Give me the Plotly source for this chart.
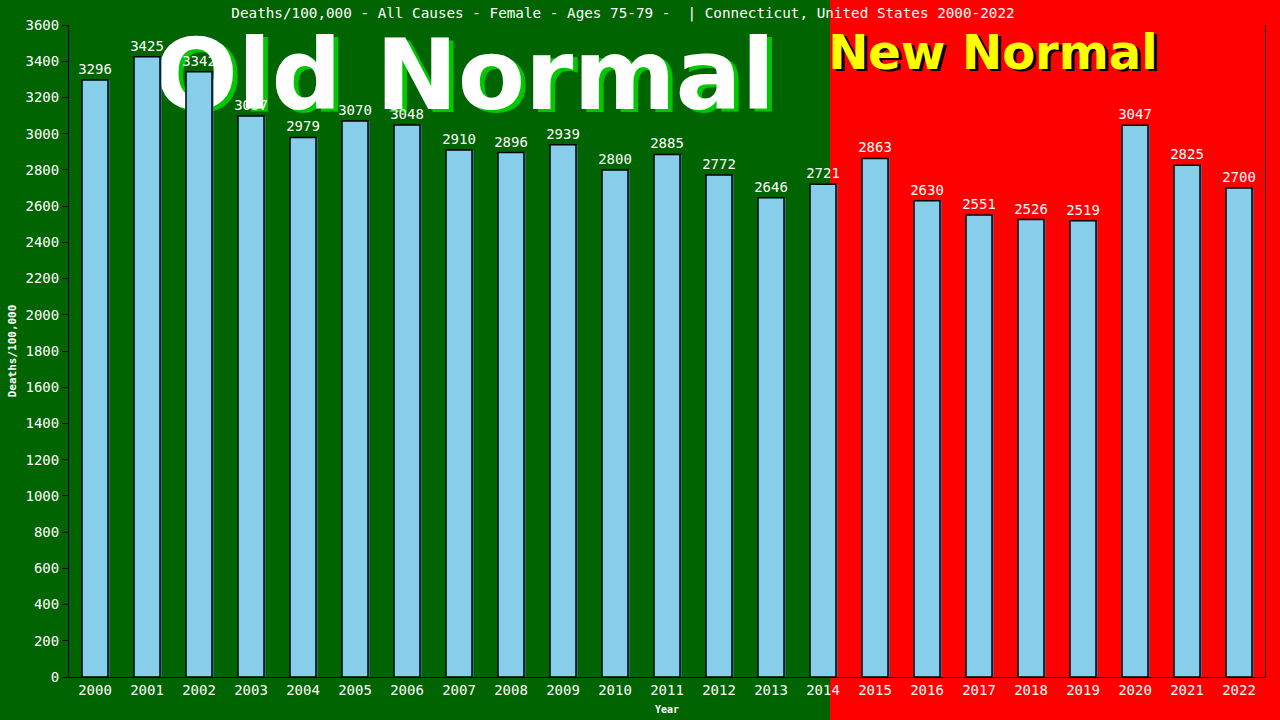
import plotly.graph_objects as go

years = list(range(2000, 2023))
deaths = [3296, 3425, 3342, 3097, 2979, 3070, 3048, 2910, 2896, 2939, 2800, 2885,
          2772, 2646, 2721, 2863, 2630, 2551, 2526, 2519, 3047, 2825, 2700]
title_text = 'Deaths/100,000 - All Causes - Female - Ages 75-79 -  | Connecticut, United States 2000-2022'

mono = 'DejaVu Sans Mono'
green_bg = '#006400'

fig = go.Figure()

# big background captions live on the base axes so the bars sit on top of them
fig.add_trace(go.Scatter(x=[0.335], y=[0.9034], mode='text', text=['<b>Old Normal</b>'],
                         textfont=dict(family='DejaVu Sans', size=98, color='#00c800'),
                         hoverinfo='skip', showlegend=False, cliponaxis=False))
fig.add_trace(go.Scatter(x=[0.331], y=[0.9084], mode='text', text=['<b>Old Normal</b>'],
                         textfont=dict(family='DejaVu Sans', size=98, color='white'),
                         hoverinfo='skip', showlegend=False, cliponaxis=False))
fig.add_trace(go.Scatter(x=[0.775], y=[0.9485], mode='text', text=['<b>New Normal</b>'],
                         textfont=dict(family='DejaVu Sans', size=48, color='black'),
                         hoverinfo='skip', showlegend=False, cliponaxis=False))
fig.add_trace(go.Scatter(x=[0.7725], y=[0.9515], mode='text', text=['<b>New Normal</b>'],
                         textfont=dict(family='DejaVu Sans', size=48, color='yellow'),
                         hoverinfo='skip', showlegend=False, cliponaxis=False))

# bar shadow, then the bars
fig.add_trace(go.Bar(x=years, y=deaths, width=0.5, offset=-0.22,
                     marker=dict(color='#4682b4', line=dict(width=0)),
                     xaxis='x2', yaxis='y2', hoverinfo='skip', showlegend=False))
fig.add_trace(go.Bar(x=years, y=deaths, width=0.5, offset=-0.25,
                     marker=dict(color='#87ceeb', line=dict(color='black', width=1.5)),
                     text=deaths, texttemplate='%{y}', textposition='outside',
                     constraintext='none', cliponaxis=False,
                     textfont=dict(family=mono, size=14, color='white'),
                     xaxis='x2', yaxis='y2', showlegend=False))

fig.update_layout(
    width=1280, height=720,
    paper_bgcolor=green_bg, plot_bgcolor='rgba(0,0,0,0)',
    margin=dict(l=69, r=15, t=25, b=43),
    barmode='overlay',
    title=dict(text=title_text, x=0.4867, xanchor='center', y=0.982, yanchor='middle',
               font=dict(family=mono, size=14.3, color='white')),
    xaxis=dict(range=[0, 1], visible=False, fixedrange=True),
    yaxis=dict(range=[0, 1], visible=False, fixedrange=True),
    xaxis2=dict(overlaying='x', anchor='y2', range=[1999.5, 2022.5], tickmode='array',
                tickvals=years, ticktext=[str(y) for y in years],
                showline=True, linecolor='black', linewidth=1, ticks='',
                showgrid=False, zeroline=False, automargin=False,
                tickfont=dict(family=mono, size=14, color='white'),
                title=dict(text='<b>Year</b>', font=dict(family=mono, size=10, color='white'),
                           standoff=9)),
    yaxis2=dict(overlaying='y', anchor='x2', range=[0, 3600], dtick=200,
                showline=True, linecolor='black', linewidth=1, mirror=True,
                ticks='outside', ticklen=6, tickcolor='black',
                showgrid=False, zeroline=False, automargin=False,
                tickfont=dict(family=mono, size=14, color='white'),
                title=dict(text='<b>Deaths/100,000</b>',
                           font=dict(family=mono, size=11, color='white'), standoff=6)),
    shapes=[dict(type='rect', xref='paper', yref='paper', x0=0.6363, x1=1.1, y0=-0.2, y1=1.1,
                 fillcolor='red', line=dict(width=0), layer='below')],
)

fig.write_html("out.html", config={'displayModeBar': False},
               post_script="document.body.style.margin='0';")
